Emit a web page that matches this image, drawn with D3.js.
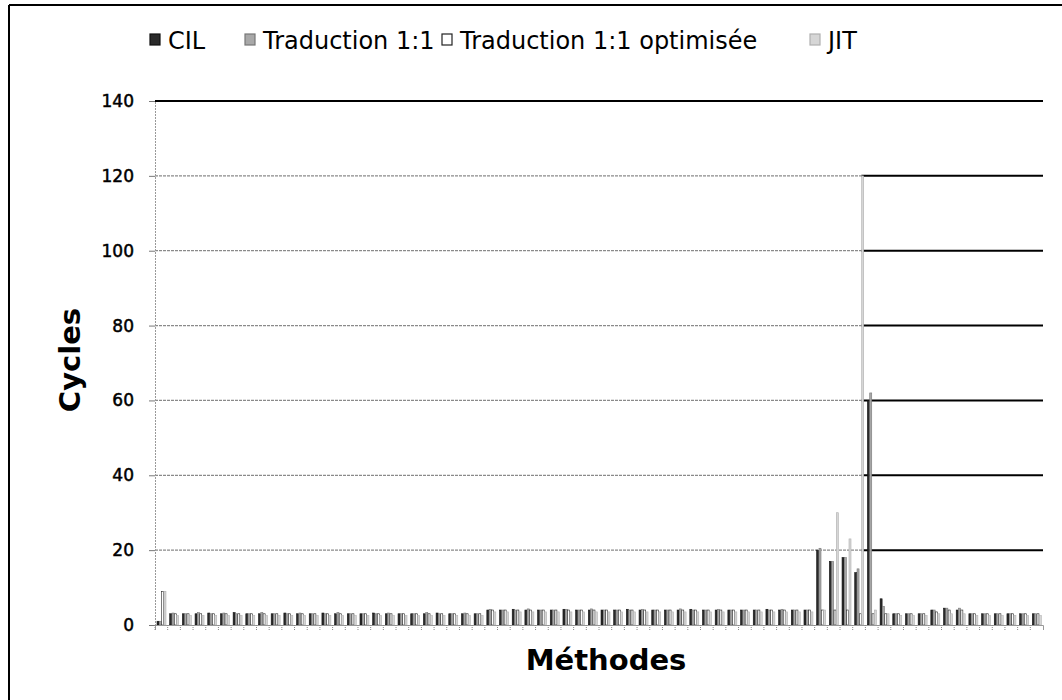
<!DOCTYPE html>
<html>
<head>
<meta charset="utf-8">
<script src="https://cdn.jsdelivr.net/npm/d3@7"></script>
<style>
  html, body { margin: 0; padding: 0; background: #fff; }
  svg { display: block; font-family: "DejaVu Sans", Verdana, sans-serif; }
</style>
</head>
<body>
<svg id="chart" width="1062" height="700"></svg>
<script>
// ---------------- DATA ----------------
const seriesNames = ["CIL", "Traduction 1:1", "Traduction 1:1 optimisée", "JIT"];
const categories = d3.range(1, 71).map(String);

const cil = [1,
  3,3,3,3.2,3,3.3,3,3,3,3.2,3,3,3.2,3,3,3,3.2,3,3,3,3,3.2,3,3,3,
  4,4,4.2,4,4,4,4.2,4,4,4,4,4.2,4,4,4,4,4.2,4,4,4,4,4,4.2,4,4,4,
  20,17,18,14,60,
  7,
  3,3,3,4,4.5,4,3,3,3,3,3,3];
const trad = [1,
  3.2,3,3.3,3,3.2,3,3,3.3,3,3,3.2,3,3,3.3,3,3,3,3.2,3,3,3.3,3,3,3.2,3,
  4.2,4,4,4.3,4,4,4.2,4,4.3,4,4,4,4.2,4,4,4.3,4,4,4.2,4,4,4,4,4.2,4,4,
  20.5,17,18,15,62,
  5,
  3,3,3,4,4.5,4.5,3,3,3,3,3,3];
const opt = [9,
  3,3,3,3,3,3,3,3,3,3,3,3,3,3,3,3,3,3,3,3,3,3,3,3,3,
  4,4,4,4,4,4,4,4,4,4,4,4,4,4,4,4,4,4,4,4,4,4,4,4,4,4,
  4,4,4,3,3,
  3,
  3,3,3,3.5,4,4,3,3,3,3,3,3];
const jit = [9,
  2.5,2.5,2.5,2.5,2.5,2.5,2.5,2.5,2.5,2.5,2.5,2.5,2.5,2.5,2.5,2.5,2.5,2.5,2.5,2.5,2.5,2.5,2.5,2.5,2.5,
  3.5,3.5,3.5,3.5,3.5,3.5,3.5,3.5,3.5,3.5,3.5,3.5,3.5,3.5,3.5,3.5,3.5,3.5,3.5,3.5,3.5,3.5,3.5,3.5,3.5,3.5,
  4,30,23,120,4,
  3,
  2.5,2.5,2.5,3,3,3,2.5,2.5,2.5,2.5,2.5,2.5];
const yTicks = [0, 20, 40, 60, 80, 100, 120, 140];

const seriesValues = [cil, trad, opt, jit];
const fills   = ["#2a2a2a", "#a8a8a8", "#ffffff", "#d6d6d6"];
const strokes = ["#111111", "#777777", "#222222", "#b0b0b0"];

// ---------------- LAYOUT ----------------
const svg = d3.select("#chart");
const margin = {left: 155, right: 19, top: 101, bottom: 75};
const W = 1062, H = 700;

const x = d3.scaleBand().domain(categories)
  .range([margin.left, W - margin.right])
  .paddingInner(0.27).paddingOuter(0.135);
const x1 = d3.scaleBand().domain(d3.range(4)).range([0, x.bandwidth()]);
const y = d3.scaleLinear().domain([0, 140]).range([H - margin.bottom, margin.top]);

// outer frame
svg.append("line").attr("x1", 9).attr("x2", 9).attr("y1", 5).attr("y2", 700)
  .attr("stroke", "#000").attr("stroke-width", 2);
svg.append("line").attr("x1", 9).attr("x2", 1062).attr("y1", 5).attr("y2", 5)
  .attr("stroke", "#000").attr("stroke-width", 2);

// gridlines: light on the left part, solid black on the right part; top line solid
const splitX = x(categories[55]) + x1(3);
const inner = yTicks.filter(d => d > 0 && d < 140);
const grid = svg.append("g");
grid.selectAll("line.l").data(inner).join("line").attr("class", "l")
  .attr("x1", margin.left).attr("x2", splitX)
  .attr("y1", d => y(d)).attr("y2", d => y(d))
  .attr("stroke", "#8a8a8a").attr("stroke-width", 1.2).attr("stroke-dasharray", "3,1");
grid.selectAll("line.r").data(inner).join("line").attr("class", "r")
  .attr("x1", splitX).attr("x2", W - margin.right)
  .attr("y1", d => y(d)).attr("y2", d => y(d))
  .attr("stroke", "#000").attr("stroke-width", 2);
grid.append("line")
  .attr("x1", margin.left).attr("x2", W - margin.right)
  .attr("y1", y(140)).attr("y2", y(140))
  .attr("stroke", "#000").attr("stroke-width", 2);

// bars
const groups = svg.append("g").selectAll("g").data(categories).join("g")
  .attr("transform", d => `translate(${x(d)},0)`);
groups.selectAll("rect").data((d, i) => seriesValues.map((s, k) => ({k, v: s[i]}))).join("rect")
  .attr("x", d => x1(d.k) + 0.3)
  .attr("width", x1.bandwidth() - 0.3)
  .attr("y", d => y(d.v))
  .attr("height", d => y(0) - y(d.v))
  .attr("fill", d => fills[d.k])
  .attr("stroke", d => strokes[d.k])
  .attr("stroke-width", 0.6);

// y axis
const yAxis = d3.axisLeft(y).tickValues(yTicks).tickSize(6).tickPadding(15);
const gy = svg.append("g").attr("transform", `translate(${margin.left},0)`).call(yAxis);
gy.select(".domain").attr("stroke", "#999").attr("stroke-dasharray", "2,1");
gy.selectAll(".tick line").attr("stroke", "#777");
gy.selectAll("text").attr("font-size", 17).attr("fill", "#000")
  .attr("stroke", "#000").attr("stroke-width", 0.5)
  .attr("font-family", "DejaVu Sans, Verdana, sans-serif");

// x axis (ticks only, no labels)
const xAxis = d3.axisBottom(x).tickSize(5).tickFormat("");
const gx = svg.append("g").attr("transform", `translate(0,${y(0)})`).call(xAxis);
gx.select(".domain").attr("stroke", "#999");
gx.selectAll(".tick line").attr("stroke", "#888").attr("stroke-dasharray", "1,1")
  .attr("transform", `translate(${-x.step() / 2},0)`);

// axis titles
svg.append("text").attr("x", 606).attr("y", 670).attr("text-anchor", "middle")
  .attr("font-size", 29).attr("font-weight", "bold").text("Méthodes");
svg.append("text").attr("transform", "translate(80,360) rotate(-90)")
  .attr("text-anchor", "middle").attr("font-size", 29).attr("font-weight", "bold").text("Cycles");

// legend
const legendX = [150, 245, 442, 810];
const leg = svg.append("g").selectAll("g").data(seriesNames).join("g")
  .attr("transform", (d, i) => `translate(${legendX[i]},40)`);
leg.append("rect").attr("x", 0).attr("y", -6).attr("width", 10).attr("height", 11)
  .attr("fill", (d, i) => fills[i]).attr("stroke", (d, i) => strokes[i]).attr("stroke-width", 1.2);
leg.append("text").attr("x", 18).attr("y", 9).attr("font-size", 24).text(d => d);
</script>
</body>
</html>
